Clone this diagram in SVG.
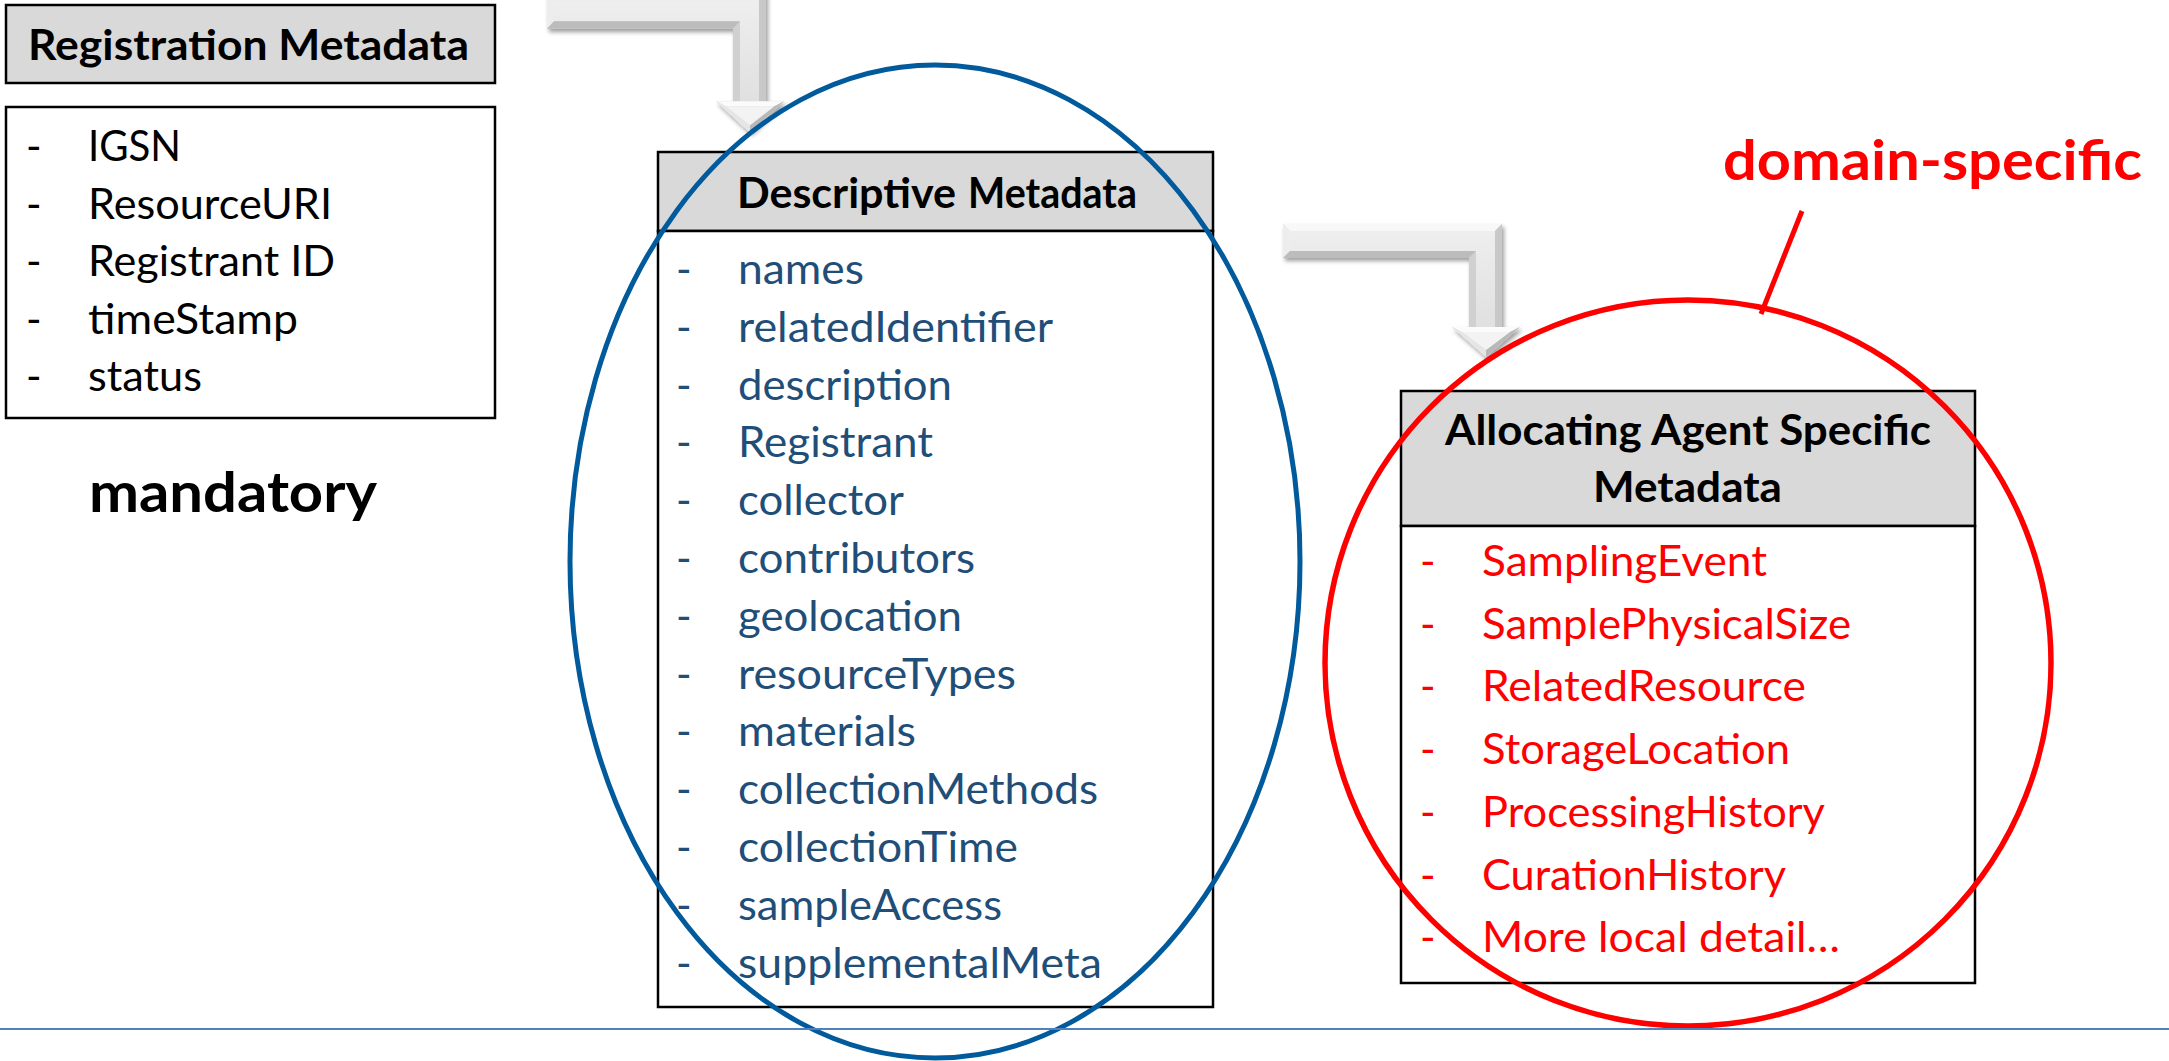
<svg xmlns="http://www.w3.org/2000/svg" width="2169" height="1061" viewBox="0 0 2169 1061">
  <style>
    .hdr { fill: #d9d9d9; stroke: #000; stroke-width: 2.5; }
    .box { fill: #ffffff; stroke: #000; stroke-width: 2.5; }
    text { font-family: "Lato", "Open Sans", sans-serif; }
    .title { font-size: 42px; font-weight: bold; fill: #000; }
    .item { font-size: 42px; fill: #000; }
    .desc { font-size: 42px; fill: #1F4E79; }
    .agent { font-size: 42px; fill: #FF0000; }
    .big { font-size: 56px; font-weight: bold; }
  </style>
  <defs>
    <filter id="drop" x="-10%" y="-10%" width="130%" height="140%">
      <feDropShadow dx="2" dy="3" stdDeviation="2.2" flood-color="#000" flood-opacity="0.38"/>
    </filter>
    <linearGradient id="face" x1="0" y1="0" x2="0" y2="1">
      <stop offset="0" stop-color="#eeeeee"/>
      <stop offset="1" stop-color="#e0e0e0"/>
    </linearGradient>
    <!-- bent, bevelled arrow: bar to the right, then down to a point -->
    <g id="bentArrow">
      <polygon points="0,0 219,0 219,103 237,103 203,133 169,103 186,103 186,34 0,34" fill="#d6d6d6"/>
      <polygon points="7,7 212,7 212,103 193,103 193,27 7,27" fill="url(#face)"/>
      <polygon points="0,0 219,0 212,7 7,7" fill="#f8f8f8"/>
      <polygon points="0,0 7,7 7,27 0,34" fill="#ededed"/>
      <polygon points="0,34 7,27 193,27 186,34" fill="#bcbcbc"/>
      <polygon points="186,34 193,27 193,103 186,103" fill="#d0d0d0"/>
      <polygon points="219,0 219,103 212,103 212,7" fill="#c8c8c8"/>
      <polygon points="169,103 237,103 227,108 179,108" fill="#fbfbfb"/>
      <polygon points="169,103 179,108 203,126 203,133" fill="#e6e6e6"/>
      <polygon points="237,103 203,133 203,126 227,108" fill="#b8b8b8"/>
      <polygon points="179,108 227,108 203,126" fill="#f3f3f3"/>
    </g>
  </defs>

  <rect width="2169" height="1061" fill="#ffffff"/>

  <!-- Registration metadata -->
  <g id="registration">
    <rect class="hdr" x="6" y="5" width="489" height="78"/>
    <text class="title" x="28" y="60" textLength="441" lengthAdjust="spacingAndGlyphs">Registration Metadata</text>
    <rect class="box" x="6" y="107" width="489" height="311"/>
    <g class="item">
      <text x="26" y="161">-</text><text x="88" y="161" textLength="93" lengthAdjust="spacingAndGlyphs">IGSN</text>
      <text x="26" y="219">-</text><text x="88" y="219" textLength="244" lengthAdjust="spacingAndGlyphs">ResourceURI</text>
      <text x="26" y="276">-</text><text x="88" y="276" textLength="247" lengthAdjust="spacingAndGlyphs">Registrant ID</text>
      <text x="26" y="334">-</text><text x="88" y="334" textLength="210" lengthAdjust="spacingAndGlyphs">timeStamp</text>
      <text x="26" y="391">-</text><text x="88" y="391" textLength="114" lengthAdjust="spacingAndGlyphs">status</text>
    </g>
  </g>
  <g id="mandatory-label">
    <text class="big" x="89" y="512" fill="#000" textLength="288" lengthAdjust="spacingAndGlyphs">mandatory</text>
  </g>

  <!-- Descriptive metadata -->
  <g id="descriptive">
    <rect class="hdr" x="658" y="152" width="555" height="79"/>
    <text class="title" x="737" y="208" textLength="219" lengthAdjust="spacingAndGlyphs">Descriptive</text>
    <text class="title" x="968" y="208" font-size="37" textLength="169" lengthAdjust="spacingAndGlyphs">Metadata</text>
    <rect class="box" x="658" y="231" width="555" height="776"/>
    <g class="desc">
      <text x="676" y="284">-</text><text x="738" y="284" textLength="126" lengthAdjust="spacingAndGlyphs">names</text>
      <text x="676" y="342">-</text><text x="738" y="342" textLength="315" lengthAdjust="spacingAndGlyphs">relatedIdentifier</text>
      <text x="676" y="400">-</text><text x="738" y="400" textLength="214" lengthAdjust="spacingAndGlyphs">description</text>
      <text x="676" y="457">-</text><text x="738" y="457" textLength="195" lengthAdjust="spacingAndGlyphs">Registrant</text>
      <text x="676" y="515">-</text><text x="738" y="515" textLength="166" lengthAdjust="spacingAndGlyphs">collector</text>
      <text x="676" y="573">-</text><text x="738" y="573" textLength="237" lengthAdjust="spacingAndGlyphs">contributors</text>
      <text x="676" y="631">-</text><text x="738" y="631" textLength="224" lengthAdjust="spacingAndGlyphs">geolocation</text>
      <text x="676" y="689">-</text><text x="738" y="689" textLength="278" lengthAdjust="spacingAndGlyphs">resourceTypes</text>
      <text x="676" y="746">-</text><text x="738" y="746" textLength="178" lengthAdjust="spacingAndGlyphs">materials</text>
      <text x="676" y="804">-</text><text x="738" y="804" textLength="360" lengthAdjust="spacingAndGlyphs">collectionMethods</text>
      <text x="676" y="862">-</text><text x="738" y="862" textLength="280" lengthAdjust="spacingAndGlyphs">collectionTime</text>
      <text x="676" y="920">-</text><text x="738" y="920" textLength="264" lengthAdjust="spacingAndGlyphs">sampleAccess</text>
      <text x="676" y="978">-</text><text x="738" y="978" textLength="364" lengthAdjust="spacingAndGlyphs">supplementalMeta</text>
    </g>
  </g>

  <!-- Allocating agent specific metadata -->
  <g id="allocating">
    <rect class="hdr" x="1401" y="391" width="574" height="135"/>
    <text class="title" x="1445" y="445" textLength="486" lengthAdjust="spacingAndGlyphs">Allocating Agent Specific</text>
    <text class="title" x="1593" y="502" textLength="189" lengthAdjust="spacingAndGlyphs">Metadata</text>
    <rect class="box" x="1401" y="526" width="574" height="457"/>
    <g class="agent">
      <text x="1420" y="576">-</text><text x="1482" y="576" textLength="285" lengthAdjust="spacingAndGlyphs">SamplingEvent</text>
      <text x="1420" y="639">-</text><text x="1482" y="639" textLength="369" lengthAdjust="spacingAndGlyphs">SamplePhysicalSize</text>
      <text x="1420" y="701">-</text><text x="1482" y="701" textLength="324" lengthAdjust="spacingAndGlyphs">RelatedResource</text>
      <text x="1420" y="764">-</text><text x="1482" y="764" textLength="308" lengthAdjust="spacingAndGlyphs">StorageLocation</text>
      <text x="1420" y="827">-</text><text x="1482" y="827" textLength="343" lengthAdjust="spacingAndGlyphs">ProcessingHistory</text>
      <text x="1420" y="890">-</text><text x="1482" y="890" textLength="304" lengthAdjust="spacingAndGlyphs">CurationHistory</text>
      <text x="1420" y="952">-</text><text x="1482" y="952" textLength="358" lengthAdjust="spacingAndGlyphs">More local detail…</text>
    </g>
  </g>

  <!-- flow arrows -->
  <g id="connectors">
    <use href="#bentArrow" transform="translate(547,-7) scale(1,1.05)" filter="url(#drop)"/>
    <use href="#bentArrow" transform="translate(1283,224)" filter="url(#drop)"/>
  </g>

  <!-- groupings -->
  <g id="descriptive-ring">
    <ellipse cx="935" cy="561.5" rx="365" ry="496.5" fill="none" stroke="#005A9C" stroke-width="5"/>
  </g>
  <g id="domain-ring">
    <ellipse cx="1688" cy="663" rx="363" ry="363" fill="none" stroke="#FF0000" stroke-width="5.5"/>
    <line x1="1802" y1="211" x2="1761" y2="314" stroke="#FF0000" stroke-width="5"/>
    <text class="big" x="1723" y="180" fill="#FF0000" textLength="419" lengthAdjust="spacingAndGlyphs">domain-specific</text>
  </g>

  <!-- slide rule -->
  <line x1="0" y1="1029" x2="2169" y2="1029" stroke="#4F81BD" stroke-width="2"/>
</svg>
